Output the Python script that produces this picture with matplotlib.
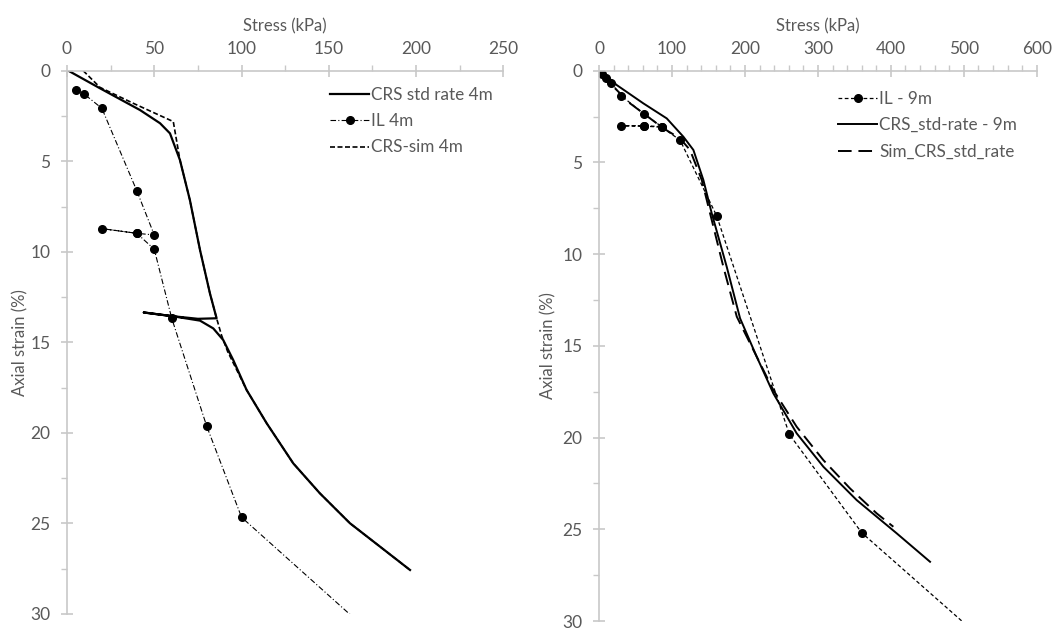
import matplotlib.pyplot as plt
import numpy as np

plt.rcParams['font.family'] = ['Lato', 'DejaVu Sans']

# ---- left chart (4 m) ----
crs4_stress = [0.8, 18.9, 41.8, 53.3, 59.0, 64.7, 70.4, 76.2, 81.9, 85.7,
               75.0, 60.0, 44.0, 60.0, 76.2, 83.8, 89.5, 95.2, 102.9, 114.4,
               129.6, 144.9, 162.1, 179.3, 196.5]
crs4_strain = [0.0, 0.97, 2.17, 2.9, 3.46, 4.93, 7.14, 9.9, 12.3, 13.67,
               13.7, 13.55, 13.35, 13.55, 13.8, 14.23, 14.87, 15.97, 17.63, 19.47,
               21.68, 23.34, 24.99, 26.28, 27.57]

il4_stress = [5, 10, 20, 40, 50, 40, 20, 40, 50, 60, 80, 100, 200]
il4_strain = [1.07, 1.3, 2.08, 6.63, 9.07, 8.98, 8.72, 8.98, 9.86, 13.67, 19.62, 24.66, 33.3]

sim4_stress = [9.3, 18.9, 38.0, 60.9, 64.7, 70.4, 76.2, 81.9, 85.7, 88.5, 92.0,
               102.9, 114.4, 129.6, 144.9, 162.1, 179.3, 196.5]
sim4_strain = [0.0, 0.92, 1.8, 2.81, 4.93, 7.14, 9.9, 12.3, 13.67, 14.6, 15.5,
               17.63, 19.47, 21.68, 23.34, 24.99, 26.28, 27.57]

# ---- right chart (9 m) ----
il9_stress = [3.6, 9.6, 16.4, 30.2, 61.7, 85.9, 62.1, 30.2, 62.1, 85.9, 111, 161.3, 260.9, 360.1, 560]
il9_strain = [0.18, 0.38, 0.65, 1.36, 2.36, 3.05, 3.0, 3.0, 3.02, 3.08, 3.78, 7.92, 19.83, 25.19, 32.2]

crs9_stress = [3.7, 24.2, 60.7, 92.8, 115.6, 129.3, 143.0, 154.5, 175.0, 193.3,
               216.1, 238.9, 270.9, 307.5, 353.2, 408.0, 453.7]
crs9_strain = [0.05, 0.78, 1.78, 2.6, 3.6, 4.32, 5.96, 7.78, 10.69, 13.5,
               15.59, 17.59, 19.77, 21.59, 23.41, 25.22, 26.77]

sim9_stress = [5.9, 19.6, 42.5, 88.1, 111.0, 124.7, 140.8, 152.2, 170.4, 188.8,
               238.9, 270.9, 307.5, 344.0, 380.5, 403.4]
sim9_strain = [0.05, 0.87, 1.78, 3.14, 3.69, 4.32, 5.96, 7.78, 10.69, 13.41,
               17.41, 19.41, 21.23, 22.77, 24.13, 24.86]

grey = '#c8c8c8'
txt = '#595959'

fig = plt.figure(figsize=(10.53, 6.28), dpi=100)
ax1 = fig.add_axes([0.0636, 0.0223, 0.4145, 0.8651])
ax2 = fig.add_axes([0.5689, 0.0111, 0.4157, 0.8763])


def style_axis(ax, xmax, xmajor, xminor, ypad):
    ax.set_xlim(0, xmax)
    ax.set_ylim(30, 0)
    ax.xaxis.tick_top()
    ax.xaxis.set_label_position('top')
    ax.set_xticks(np.arange(0, xmax + 1, xmajor))
    ax.set_xticks(np.arange(0, xmax + 1, xminor), minor=True)
    ax.set_yticks(np.arange(0, 31, 5))
    ax.set_yticks(np.arange(0, 31, 2.5), minor=True)
    for s in ['right', 'bottom']:
        ax.spines[s].set_visible(False)
    for s in ['left', 'top']:
        ax.spines[s].set_color(grey)
        ax.spines[s].set_linewidth(1.2)
    ax.tick_params(which='major', direction='inout', length=8, width=1.2,
                   color=grey, labelcolor=txt, labelsize=12.5)
    ax.tick_params(axis='x', which='major', pad=6)
    ax.tick_params(axis='y', which='major', pad=8)
    ax.tick_params(which='minor', direction='out', length=4, width=1.0, color=grey)
    ax.set_xlabel('Stress (kPa)', color=txt, fontsize=12, labelpad=7)
    ax.set_ylabel('Axial strain (%)', color=txt, fontsize=12, labelpad=ypad)


style_axis(ax1, 250, 50, 25, 1)
style_axis(ax2, 600, 100, 20, 4)

ax1.plot(crs4_stress, crs4_strain, color='black', lw=1.6, label='CRS std rate 4m')
ax1.plot(il4_stress, il4_strain, color='black', lw=0.8, dashes=(5, 2, 1, 2),
         marker='o', markersize=5.5, label='IL 4m')
ax1.plot(sim4_stress, sim4_strain, color='black', lw=1.2, dashes=(3, 1.5),
         label='CRS-sim 4m')
ax1.legend(loc='upper left', bbox_to_anchor=(330 / 1053, 1 - 87 / 628),
           bbox_transform=fig.transFigure, frameon=False, fontsize=12.3,
           handlelength=2.3, handletextpad=0.1, labelspacing=0.6,
           borderaxespad=0, borderpad=0, labelcolor=txt)

ax2.plot(il9_stress, il9_strain, color='black', lw=0.9, dashes=(3, 2),
         marker='o', markersize=5.5, label='IL - 9m')
ax2.plot(crs9_stress, crs9_strain, color='black', lw=1.4, label='CRS_std-rate - 9m')
ax2.plot(sim9_stress, sim9_strain, color='black', lw=1.4, dashes=(7, 3.5),
         label='Sim_CRS_std_rate')
ax2.legend(loc='upper left', bbox_to_anchor=(838 / 1053, 1 - 91 / 628),
           bbox_transform=fig.transFigure, frameon=False, fontsize=12.3,
           handlelength=2.3, handletextpad=0.1, labelspacing=0.6,
           borderaxespad=0, borderpad=0, labelcolor=txt)

fig.savefig('out.png', dpi=100)
